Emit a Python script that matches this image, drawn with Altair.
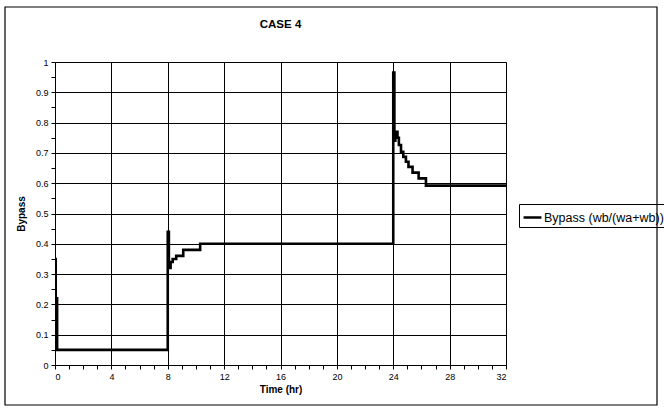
import altair as alt
import pandas as pd

# data
times = [0.0, 0.05, 0.15, 8.0, 8.08, 8.2, 8.35, 8.6, 9.1, 10.3,
         24.0, 24.08, 24.15, 24.3, 24.4, 24.55, 24.71, 24.9, 25.08, 25.37, 25.8, 26.32, 32.0]
bypass = [0.35, 0.22, 0.05, 0.44, 0.32, 0.34, 0.35, 0.36, 0.38, 0.40,
          0.965, 0.74, 0.77, 0.75, 0.726, 0.704, 0.687, 0.671, 0.654, 0.635, 0.616, 0.592, 0.592]
series_name = "Bypass (wb/(wa+wb))"
x_ticks = list(range(0, 33))
y_ticks = [round(i * 0.05, 2) for i in range(0, 21)]

df = pd.DataFrame({"t": times, "v": bypass, "s": series_name})

FONT = "Liberation Sans"

xscale = alt.Scale(domain=[0, 32], nice=False, zero=False)
yscale = alt.Scale(domain=[0, 1], nice=False)

line = alt.Chart(df).mark_line(
    interpolate="step-after", color="black", strokeWidth=2.6, clip=True
).encode(
    x=alt.X("t:Q", scale=xscale,
            axis=alt.Axis(values=x_ticks, title="Time (hr)",
                          labelExpr="datum.value % 4 == 0 ? datum.label : ''",
                          gridOpacity={"condition": {"test": "datum.value % 4 === 0", "value": 1}, "value": 0})),
    y=alt.Y("v:Q", scale=yscale,
            axis=alt.Axis(values=y_ticks, title="Bypass",
                          labelExpr="round(datum.value*100) % 10 == 0 ? format(datum.value, '.1~f') : ''",
                          gridOpacity={"condition": {"test": "round(datum.value*100) % 10 === 0", "value": 1}, "value": 0})),
    color=alt.Color("s:N", scale=alt.Scale(range=["black"]),
                    legend=alt.Legend(title=None, orient="none", legendX=464, legendY=142,
                                      symbolType="stroke", symbolStrokeWidth=2.5, symbolSize=320,
                                      strokeColor="black", padding=3, labelFontSize=12.5,
                                      labelFont=FONT, labelLimit=300, labelOffset=1)),
)

frame = alt.Chart(pd.DataFrame({"a": [0]})).mark_rect(
    fill=None, stroke="black", strokeWidth=1.2, clip=False
).encode(x=alt.value(-50), x2=alt.value(602), y=alt.value(-55), y2=alt.value(343))

chart = alt.layer(frame, line).properties(
    width=451, height=303,
    title=alt.TitleParams("CASE 4", fontSize=11.5, font=FONT, fontWeight="bold", offset=-24, anchor="middle"),
    padding={"left": 55, "top": 62, "right": 158, "bottom": 47},
    autosize=alt.AutoSizeParams(type="none"),
).configure_view(
    stroke="#808080", strokeWidth=1
).configure_axis(
    grid=True, gridColor="black", gridWidth=1,
    domainColor="black", tickColor="black", tickSize=4,
    labelFont=FONT, labelFontSize=9, labelColor="black", labelPadding=3,
    titleFont=FONT, titleFontSize=10, titleFontWeight="bold", titleColor="black",
).configure_axisY(titlePadding=9).configure_axisX(titlePadding=3)

chart.save("out.html", embed_options={"renderer": "svg", "actions": False})
